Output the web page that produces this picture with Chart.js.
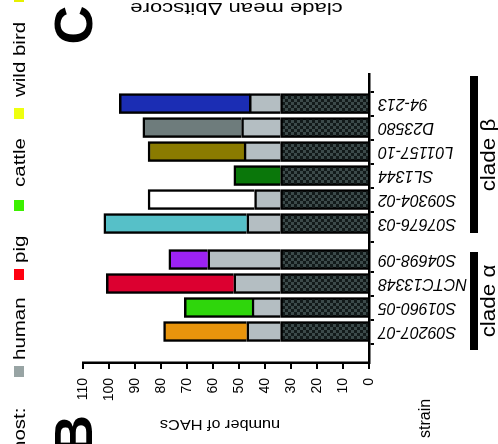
<!DOCTYPE html>
<html>
<head>
<meta charset="utf-8">
<script src="https://cdn.jsdelivr.net/npm/chart.js@4.4.1/dist/chart.umd.min.js"></script>
<style>
html,body{margin:0;padding:0;background:#fff;}
body{width:498px;height:444px;overflow:hidden;position:relative;font-family:"Liberation Sans",Arial,Helvetica,sans-serif;}
/* the figure is drawn upright, then turned a quarter turn left like the reference */
#fig{position:absolute;left:0;top:0;width:444px;height:498px;transform-origin:0 0;transform:translate(0,444px) rotate(-90deg);}
#fig canvas{position:absolute;left:0;top:0;}
.t{position:absolute;white-space:nowrap;line-height:1;color:#000;}
.sq{position:absolute;}
</style>
</head>
<body>
<div id="fig">
<canvas id="chart" width="444" height="498"></canvas>
</div>
<script>
let strains=["S09207-07","S01960-05","NCTC13348","S04698-09","S07676-03","S09304-02","SL1344","L01157-10","D23580","94-213"];
let slots=[0,1,2,3,4.5,5.5,6.5,7.5,8.5,9.5];
let core=[34,34,34,34,34,34,34,34,34,34];
let shared=[13,11,18,28,13,10,0,14,15,12];
let specific=[32,26,49,15,55,41,18,37,38,50];
let strainColors=["#e8940c","#2fd60c","#dc0030","#9c22f4","#56c0c8","#ffffff","#0a770a","#8a7b00","#6e7c7c","#1b2db4"];
let hosts=["human","pig","cattle","wild bird"];
let hostColors=["#98a4a4","#ff0010","#3cf000","#eeff10"];
let clades=["clade \u03b1","clade \u03b2"];

const FONT='"Liberation Sans", Arial, Helvetica, sans-serif';
let fig=document.getElementById("fig");

function text(txt,left,top,size,sx,extra){
let d=document.createElement("div");
d.className="t";
d.textContent=txt;
d.style.left=left+"px";
d.style.top=top+"px";
d.style.fontSize=size+"px";
d.style.transformOrigin="0 0";
d.style.transform="scaleX("+sx+")";
if(extra) Object.assign(d.style,extra);
fig.appendChild(d);
return d;
}

function ctext(txt,cu,top,size,sx){
let d=text(txt,cu-150,top,size,sx,{width:"300px",textAlign:"center",transformOrigin:"50% 50%"});
return d;
}

function vtext(txt,cu,cv,size,sx){
let d=document.createElement("div");
d.className="t";
d.textContent=txt;
d.style.left=(cu-150)+"px";
d.style.top=(cv-size/2)+"px";
d.style.width="300px";
d.style.height=size+"px";
d.style.textAlign="center";
d.style.fontSize=size+"px";
d.style.transform="rotate(-90deg) scaleX("+sx+")";
fig.appendChild(d);
}

function box(left,top,w,h,col){
let d=document.createElement("div");
d.className="sq";
d.style.left=left+"px";
d.style.top=top+"px";
d.style.width=w+"px";
d.style.height=h+"px";
d.style.background=col;
fig.appendChild(d);
}

// legend row
text("host:",-8,11.5,16,1.28);
let sqAt=[67,164,233,325];
let txAt=[84,181,257,347];
hosts.forEach((h,i)=>{
box(sqAt[i],14,11,10,hostColors[i]);
text(h,txAt[i],11.5,16,1.28);
});
box(442,14,12,10,"#e6f000");

// panel letters
text("B",-10,46.3,54,1,{fontWeight:"bold"});
text("C",399.5,46,54,1,{fontWeight:"bold"});

// axis titles
vtext("number of HACs",19.2,220,14,1.16);
vtext("clade mean \u0394bitscore",435.1,236,17,1.3);
text("strain",6,416.5,16,1);

// clade brackets
box(94,470,98,8,"#000");
box(211,470,157,8,"#000");
ctext(clades[0],143,477.5,20,1.12);
ctext(clades[1],289,477.5,20,1.12);

function checker(){
let c=document.createElement("canvas");
c.width=6;c.height=6;
let g=c.getContext("2d");
g.fillStyle="#121a1a";g.fillRect(0,0,6,6);
g.fillStyle="#3c4a4a";g.fillRect(0,0,3,3);g.fillRect(3,3,3,3);
return g.createPattern(c,"repeat");
}

let pts=arr=>slots.map((x,i)=>({x:x,y:arr[i]}));

new Chart(document.getElementById("chart"),{
type:'bar',
data:{
datasets:[
{label:"core",data:pts(core),backgroundColor:checker()},
{label:"shared",data:pts(shared),backgroundColor:"#b4bec2"},
{label:"strain",data:pts(specific),backgroundColor:strainColors}
]
},
options:{
responsive:false,
animation:false,
layout:{padding:{top:83,right:74,left:0,bottom:0}},
datasets:{bar:{barThickness:20,borderColor:"#000",borderWidth:2.5,borderSkipped:"start"}},
plugins:{legend:{display:false},tooltip:{enabled:false}},
scales:{
x:{
type:'linear',stacked:true,min:-0.71,max:10.13,
afterBuildTicks:s=>{s.ticks=slots.map(v=>({value:v}));},
afterFit:s=>{s.height=129;},
grid:{drawOnChartArea:false,color:"#000",lineWidth:2,tickLength:5},
border:{color:"#000",width:2.5},
ticks:{autoSkip:false,minRotation:90,maxRotation:90,padding:4,color:"#000",
font:{family:FONT,size:16,style:"italic"},
callback:(v,i)=>strains[i]}
},
y:{
stacked:true,min:0,max:110,
afterFit:s=>{s.width=81;},
grid:{drawOnChartArea:false,color:"#000",lineWidth:2,tickLength:6},
border:{color:"#000",width:2.5},
ticks:{stepSize:10,padding:9,color:"#000",font:{family:FONT,size:14}}
}
}
}
});
</script>
</body>
</html>
